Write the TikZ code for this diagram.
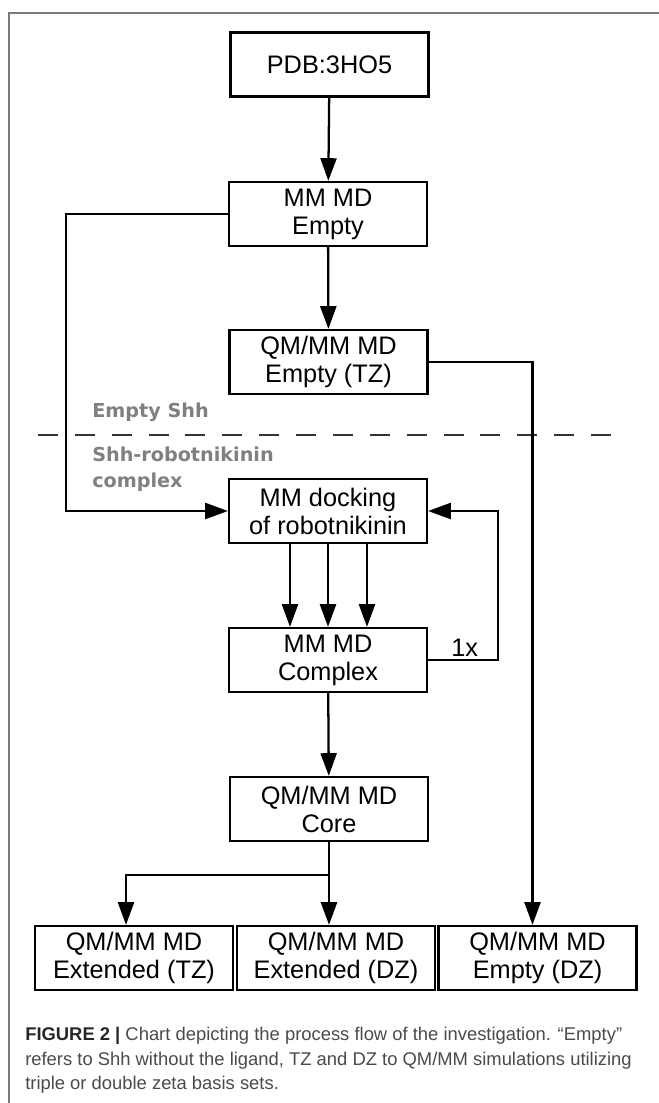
\documentclass[tikz,border=0pt]{standalone}
\usepackage{fontspec}
\setmainfont{Liberation Sans}
\newfontfamily\tagfont{DejaVu Sans}
\usepackage{xcolor}
\usetikzlibrary{arrows.meta, positioning, calc}

\definecolor{taggray}{HTML}{808080}
\definecolor{capgray}{HTML}{4A4A4A}
\definecolor{framegray}{HTML}{7A7A7A}

\begin{document}
\begin{tikzpicture}[
  x=0.75pt, y=-0.75pt,
  font=\fontsize{19}{21}\selectfont,
  box/.style={draw, line width=1.7pt, align=center, inner sep=0pt,
              minimum width=148.5pt, minimum height=48pt},
  ar/.style={-{Triangle[length=17pt,width=12pt]}, line width=1.7pt},
  tag/.style={anchor=north west, inner sep=0pt, align=left, text=taggray,
              font=\tagfont\bfseries\fontsize{14.4}{19.5}\selectfont},
  captext/.style={anchor=north west, inner sep=0pt, align=left, text=capgray,
              font=\fontsize{13.8}{18.5}\selectfont}
]
\useasboundingbox (0,0) rectangle (659,1103);
\draw[framegray, line width=1pt] (9,1103) -- (9,13) -- (659,13);

% empty protein branch
\node[box] at (329.5,64.5) (pdb)   {PDB:3HO5};
\node[box] at (328,214)    (mmE)   {MM MD\\Empty};
\node[box] at (328.5,362)  (qmTZ)  {QM/MM MD\\Empty (TZ)};

% separator between the two systems
\node[tag] at (92,403) (lblE) {Empty Shh};
\draw[line width=1.7pt, black!80, dash pattern=on 15pt off 12.65pt] (38,435) -- (612,435);
\node[tag] at (92,447) (lblC) {Shh-robotnikinin\\complex};

% complex branch
\node[box] at (328,511)  (dock)  {MM docking\\of robotnikinin};
\node[box] at (328,660)  (cplx)  {MM MD\\Complex};
\node[box] at (329,809)  (core)  {QM/MM MD\\Core};
\node[box] at (134,958)  (extTZ) {QM/MM MD\\Extended (TZ)};
\node[box] at (336,958)  (extDZ) {QM/MM MD\\Extended (DZ)};
\node[box] at (537.5,958) (empDZ) {QM/MM MD\\Empty (DZ)};

\draw[ar] (pdb) -- (mmE);
\draw[ar] (mmE) -- (qmTZ);
\draw[ar] (mmE.west) -- ++(-162,0) |- (dock.west);
\draw[ar] (qmTZ.east) -| ($(empDZ.north)+(-5,0)$);
\foreach \dx in {-38,0,39}
  \draw[ar] ($(dock.south)+(\dx,0)$) -- ($(cplx.north)+(\dx,0)$);
\draw[ar] (cplx.east) -- ++(70,0) |- (dock.east);
\node[anchor=base west, inner sep=0pt] at (451,656) (rep) {1x};
\draw[ar] (cplx) -- (core);
\draw[ar] (core) -- (core |- extDZ.north);
\draw[ar] (core.south) ++(0,33) -| ($(extTZ.north)+(-8,0)$);

% caption
\node[captext] at (25,1027) (caption)
  {{\color{black!85}\textbf{FIGURE 2 |}} Chart depicting the process flow of the investigation. “Empty”\\
   refers to Shh without the ligand, TZ and DZ to QM/MM simulations utilizing\\
   triple or double zeta basis sets.};
\end{tikzpicture}
\end{document}
